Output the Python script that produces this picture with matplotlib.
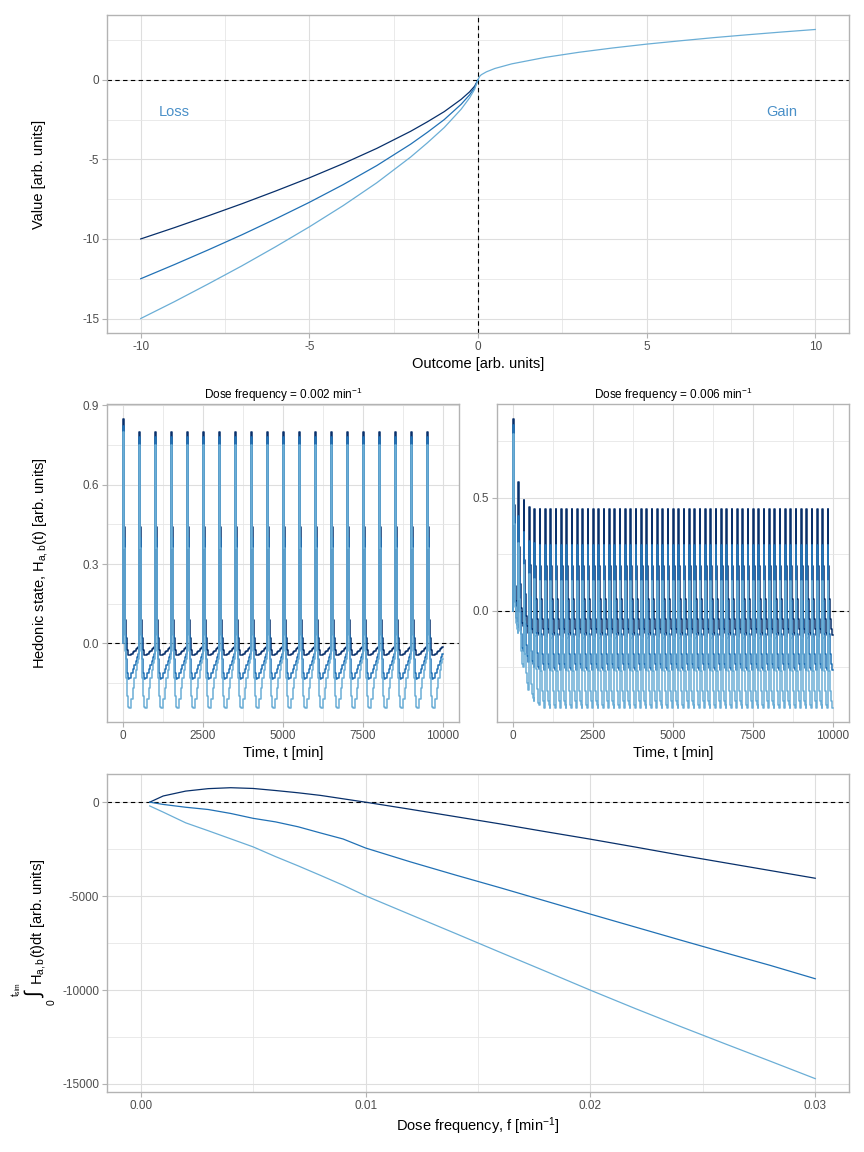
import numpy as np
import matplotlib
matplotlib.use("Agg")
import matplotlib.pyplot as plt

plt.rcParams["font.family"] = ["Liberation Sans", "DejaVu Sans"]
plt.rcParams["mathtext.fontset"] = "custom"
plt.rcParams["mathtext.rm"] = "Liberation Sans"
plt.rcParams["mathtext.it"] = "Liberation Sans"
plt.rcParams["axes.unicode_minus"] = False

# colours for the three parameter sets (dark -> light)
COLS = ["#08306B", "#2171B5", "#6BAED6"]

# ---- top panel: value function ----
loss_x = [-10, -9, -8, -7, -6, -5, -4, -3, -2, -1.5, -1, -0.5, -0.25, -0.1, 0]
loss_dark = [-10.0, -9.29, -8.55, -7.79, -6.99, -6.16, -5.27, -4.31, -3.24, -2.64, -2.0, -1.23, -0.76, -0.40, 0]
loss_mid = [-12.5, -11.61, -10.69, -9.74, -8.74, -7.70, -6.59, -5.39, -4.05, -3.30, -2.5, -1.54, -0.95, -0.50, 0]
loss_light = [-15.0, -13.94, -12.83, -11.69, -10.49, -9.24, -7.91, -6.47, -4.86, -3.96, -3.0, -1.85, -1.14, -0.60, 0]
gain_x = [0, 0.05, 0.1, 0.25, 0.5, 1, 2, 3, 4, 5, 6, 7, 8, 9, 10]
gain_y = [0, 0.22, 0.32, 0.5, 0.71, 1.0, 1.41, 1.73, 2.0, 2.24, 2.45, 2.65, 2.83, 3.0, 3.16]

# ---- middle panels: hedonic state ----
dose_freq = [0.002, 0.006]
t_end = 10000
# f = 0.002: one dose cycle (minutes after dose) per parameter set
cyc_t = [0, 25, 50, 75, 100, 125, 150, 200, 250, 300, 350, 400, 450, 480]
cyc_dark = [0.80, 0.44, 0.21, 0.09, 0.02, -0.025, -0.045, -0.045, -0.04, -0.033, -0.027, -0.021, -0.016, -0.012]
cyc_mid = [0.78, 0.40, 0.17, 0.03, -0.06, -0.11, -0.135, -0.13, -0.11, -0.095, -0.08, -0.065, -0.05, -0.04]
cyc_light = [0.75, 0.36, 0.12, -0.03, -0.13, -0.20, -0.24, -0.245, -0.21, -0.17, -0.13, -0.10, -0.075, -0.06]
first_peak = [0.85, 0.82, 0.80]

# f = 0.006: peak / trough of each cycle, decay shape within a cycle
dec_t = [0, 25, 50, 75, 100, 125, 150]
dec_frac = [1.0, 0.55, 0.29, 0.13, 0.05, 0.02, 0.0]
peaks_dark = [0.85, 0.57, 0.49, 0.46] + [0.45] * 56
peaks_mid = [0.82, 0.42, 0.35, 0.31, 0.30] + [0.29] * 55
peaks_light = [0.78, 0.30, 0.20, 0.16, 0.14] + [0.13] * 55
troughs_dark = [0.0, -0.07, -0.10] + [-0.11] * 57
troughs_mid = [-0.08, -0.18, -0.23, -0.25, -0.26] + [-0.265] * 55
troughs_light = [-0.10, -0.25, -0.35, -0.40, -0.42] + [-0.43] * 55

# ---- bottom panel: integrated hedonic state vs dose frequency ----
freq = [0.0004, 0.001, 0.002, 0.003, 0.004, 0.005, 0.006, 0.007, 0.008, 0.009, 0.010,
        0.012, 0.014, 0.016, 0.018, 0.020, 0.022, 0.024, 0.026, 0.028, 0.030]
int_dark = [0, 330, 590, 720, 770, 730, 620, 500, 360, 180, 0,
            -380, -770, -1160, -1570, -1970, -2390, -2820, -3230, -3640, -4050]
int_mid = [0, -120, -270, -390, -600, -860, -1050, -1310, -1640, -1960, -2440,
           -3180, -3880, -4560, -5260, -5960, -6650, -7340, -8020, -8690, -9400]
int_light = [-200, -530, -1100, -1520, -1950, -2380, -2900, -3390, -3900, -4420, -4985,
             -5990, -6990, -8000, -9000, -10010, -10990, -11940, -12870, -13790, -14720]


def trace_slow(period, prof, peak0):
    t, y = [0], [0]
    d = 0.0
    k = 0
    while d < t_end - 1:
        vals = list(prof)
        if k == 0:
            vals[0] = peak0
        t += [d + o for o in cyc_t]
        y += vals
        k += 1
        d = k * period
    t.append(t_end)
    y.append(prof[-1])
    return t, y


def trace_fast(period, peaks, troughs):
    t, y = [0], [0]
    for k, (p, q) in enumerate(zip(peaks, troughs)):
        d = k * period
        t += [d + o for o in dec_t]
        y += [q + f * (p - q) for f in dec_frac]
    t.append(t_end)
    y.append(troughs[-1])
    return t, y


def px(l, t, r, b):
    return [l / 864, 1 - b / 1152, (r - l) / 864, (b - t) / 1152]


def style(ax, xmaj, xmin, ymaj, ymin, xlab, ylab):
    ax.set_xticks(xmaj)
    ax.set_xticklabels(xlab)
    ax.set_yticks(ymaj)
    ax.set_yticklabels(ylab)
    ax.set_xticks(xmin, minor=True)
    ax.set_yticks(ymin, minor=True)
    ax.grid(which="major", color="#DEDEDE", lw=0.8, zorder=0)
    ax.grid(which="minor", color="#E6E6E6", lw=0.6, zorder=0)
    ax.set_axisbelow(True)
    for s in ax.spines.values():
        s.set_color("#B3B3B3")
        s.set_linewidth(1.0)
    ax.tick_params(which="major", length=3.5, width=0.8, color="#B3B3B3",
                   labelsize=8.5, labelcolor="#4D4D4D", pad=2)
    ax.tick_params(which="minor", length=0)


fig = plt.figure(figsize=(8.64, 11.52), dpi=100)

# top panel
ax = fig.add_axes(px(107, 15, 849, 333))
ax.axhline(0, color="black", lw=0.8, ls=(0, (4, 3)), zorder=1)
ax.axvline(0, color="black", lw=0.8, ls=(0, (4, 3)), zorder=1)
for yy, c in zip([loss_dark, loss_mid, loss_light], COLS):
    ax.plot(loss_x, yy, color=c, lw=0.9, zorder=2)
ax.plot(gain_x, gain_y, color=COLS[2], lw=0.9, zorder=2)
ax.text(-9, -2, "Loss", color="#4A90C8", fontsize=10.5, ha="center", va="center")
ax.text(9, -2, "Gain", color="#4A90C8", fontsize=10.5, ha="center", va="center")
ax.set_xlim(-11, 11)
ax.set_ylim(-15.91, 4.07)
style(ax, [-10, -5, 0, 5, 10], [-7.5, -2.5, 2.5, 7.5], [-15, -10, -5, 0], [-12.5, -7.5, -2.5, 2.5],
      ["-10", "-5", "0", "5", "10"], ["-15", "-10", "-5", "0"])
ax.set_xlabel("Outcome [arb. units]", fontsize=10.5, labelpad=3)
ax.set_ylabel("Value [arb. units]", fontsize=10.5, labelpad=26)

# middle panels
period_slow = 1 / dose_freq[0]
period_fast = 1 / dose_freq[1]
axl = fig.add_axes(px(107, 404, 459, 722))
axl.axhline(0, color="black", lw=0.8, ls=(0, (4, 3)), zorder=1)
for prof, p0, c in zip([cyc_dark, cyc_mid, cyc_light], first_peak, COLS):
    t, y = trace_slow(period_slow, prof, p0)
    axl.plot(t, y, color=c, lw=1.1, zorder=2, drawstyle="steps-post")
axl.set_xlim(-500, 10500)
axl.set_ylim(-0.297, 0.905)
style(axl, [0, 2500, 5000, 7500, 10000], [1250, 3750, 6250, 8750],
      [0, 0.3, 0.6, 0.9], [-0.15, 0.15, 0.45, 0.75],
      ["0", "2500", "5000", "7500", "10000"], ["0.0", "0.3", "0.6", "0.9"])
axl.set_xlabel("Time, t [min]", fontsize=10.5, labelpad=3)
axl.set_ylabel(r"Hedonic state, H$_{\mathregular{a,b}}$(t) [arb. units]", fontsize=10.5, labelpad=24)
axl.set_title(r"Dose frequency = 0.002 min$^{\mathregular{-1}}$", fontsize=8.5, pad=3)

axr = fig.add_axes(px(497, 404, 849, 722))
axr.axhline(0, color="black", lw=0.8, ls=(0, (4, 3)), zorder=1)
for pk, tr, c in zip([peaks_dark, peaks_mid, peaks_light],
                     [troughs_dark, troughs_mid, troughs_light], COLS):
    t, y = trace_fast(period_fast, pk, tr)
    axr.plot(t, y, color=c, lw=1.1, zorder=2, drawstyle="steps-post")
axr.set_xlim(-500, 10500)
axr.set_ylim(-0.494, 0.915)
style(axr, [0, 2500, 5000, 7500, 10000], [1250, 3750, 6250, 8750],
      [0, 0.5], [-0.25, 0.25, 0.75],
      ["0", "2500", "5000", "7500", "10000"], ["0.0", "0.5"])
axr.set_xlabel("Time, t [min]", fontsize=10.5, labelpad=3)
axr.set_title(r"Dose frequency = 0.006 min$^{\mathregular{-1}}$", fontsize=8.5, pad=3)

# bottom panel
axb = fig.add_axes(px(107, 774, 849, 1092))
axb.axhline(0, color="black", lw=0.8, ls=(0, (4, 3)), zorder=1)
for yy, c in zip([int_dark, int_mid, int_light], COLS):
    axb.plot(freq, yy, color=c, lw=0.9, zorder=2)
axb.set_xlim(-0.0015, 0.0315)
axb.set_ylim(-15430, 1500)
style(axb, [0, 0.01, 0.02, 0.03], [0.005, 0.015, 0.025],
      [-15000, -10000, -5000, 0], [-12500, -7500, -2500],
      ["0.00", "0.01", "0.02", "0.03"], ["-15000", "-10000", "-5000", "0"])
axb.set_xlabel(r"Dose frequency, f [min$^{\mathregular{-1}}$]", fontsize=10.5, labelpad=3)
# y label: integrand as axis label, integral sign and limits drawn beside it
axb.set_ylabel(r"H$_{\mathregular{a,b}}$(t)dt [arb. units]", fontsize=10.5)
axb.yaxis.set_label_coords((39 - 107) / 742, (1092 - 922) / 318)
axb.yaxis.label.set_verticalalignment("center")
fig.text(35 / 864, 1 - 995 / 1152, "\u222b", fontsize=15, rotation=90,
         ha="center", va="center")
fig.text(52 / 864, 1 - 1002 / 1152, "0", fontsize=7.5, rotation=90,
         ha="center", va="center")
fig.text(16 / 864, 1 - 990 / 1152, r"t$_{\mathregular{sim}}$", fontsize=7, rotation=90,
         ha="center", va="center")

fig.savefig("out.png", dpi=100)
